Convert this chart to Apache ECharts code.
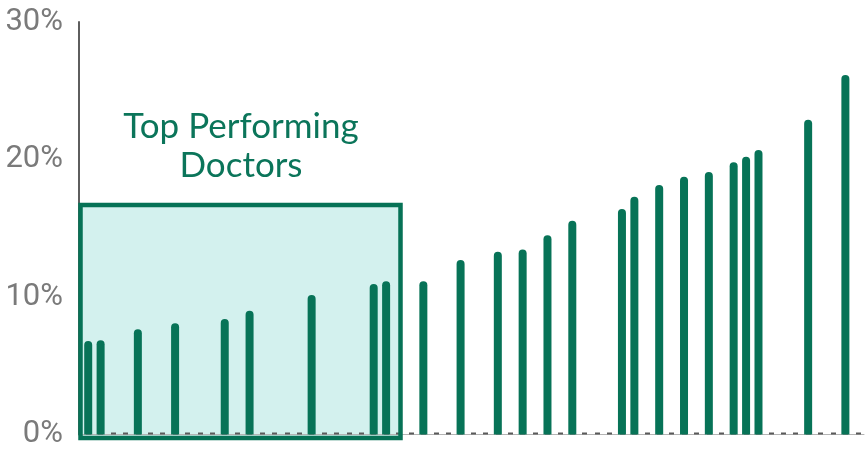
<!DOCTYPE html>
<html>
<head>
<meta charset="utf-8">
<script src="https://cdn.jsdelivr.net/npm/echarts@6/dist/echarts.min.js"></script>
<style>
  html, body { margin: 0; padding: 0; background: #ffffff; }
  #chart { width: 867px; height: 450px; }
</style>
</head>
<body>
<div id="chart"></div>
<script>
// Number of doctor slots along the x axis (most slots stay empty)
const slotCount = 63;

// Slot index of each doctor that has a rate, and that doctor's rate (%)
const doctorSlots = [0, 1, 4, 7, 11, 13, 18, 23, 24, 27, 30, 33, 35, 37, 39,
                     43, 44, 46, 48, 50, 52, 53, 54, 58, 61];
const doctorRates = [6.8, 6.85, 7.65, 8.1, 8.4, 9.0, 10.15, 10.95, 11.15, 11.15, 12.7, 13.3, 13.45, 14.5, 15.55,
                     16.4, 17.3, 18.15, 18.75, 19.1, 19.8, 20.2, 20.7, 22.9, 26.15];

// Y axis ticks (%)
const yTicks = [0, 10, 20, 30];

// Caption of the highlighted group
const topGroupLabel = 'Top Performing\nDoctors';

const categories = [];
const values = [];
for (let i = 0; i < slotCount; i++) {
  categories.push(String(i + 1));
  values.push(null);
}
doctorSlots.forEach((s, k) => { values[s] = doctorRates[k]; });

const green = '#077357';

const chart = echarts.init(document.getElementById('chart'), null, { renderer: 'canvas' });

chart.setOption({
  animation: false,
  backgroundColor: '#ffffff',
  grid: { left: 82, right: 3, top: 22, bottom: 15, containLabel: false },
  xAxis: {
    type: 'category',
    data: categories,
    boundaryGap: true,
    axisLine: { show: true, lineStyle: { color: '#b5b5b5', width: 1 } },
    axisTick: {
      show: true, inside: true, alignWithLabel: true, interval: 0, length: 2,
      lineStyle: { color: '#5a5a5a', width: 5 }
    },
    axisLabel: { show: false },
    splitLine: { show: false }
  },
  yAxis: {
    type: 'value',
    min: yTicks[0],
    max: yTicks[yTicks.length - 1],
    interval: yTicks[1] - yTicks[0],
    offset: 3,
    axisLine: { show: true, lineStyle: { color: '#5e5e5e', width: 2 } },
    axisTick: { show: false },
    splitLine: { show: false },
    axisLabel: {
      formatter: '{value}%',
      margin: 16,
      color: '#7a7a7a',
      fontFamily: 'Roboto',
      fontSize: 31
    }
  },
  series: [{
    type: 'bar',
    data: values,
    barWidth: 8,
    z: 5,
    itemStyle: { color: green, borderRadius: [4, 4, 0, 0] }
  }],
  graphic: [
    {
      type: 'rect',
      z: -5,
      silent: true,
      shape: { x: 80.5, y: 205, width: 320, height: 233 },
      style: { fill: '#d3f1ee' }
    },
    {
      type: 'rect',
      z: 100,
      silent: true,
      shape: { x: 80.5, y: 205, width: 320, height: 233 },
      style: { fill: 'none', stroke: '#067256', lineWidth: 4.5 }
    },
    {
      type: 'text',
      z: 100,
      silent: true,
      x: 241,
      y: 146,
      style: {
        text: topGroupLabel,
        fill: '#0b755a',
        font: '35px Lato',
        lineHeight: 39,
        align: 'center',
        verticalAlign: 'middle'
      }
    }
  ]
});
</script>
</body>
</html>
